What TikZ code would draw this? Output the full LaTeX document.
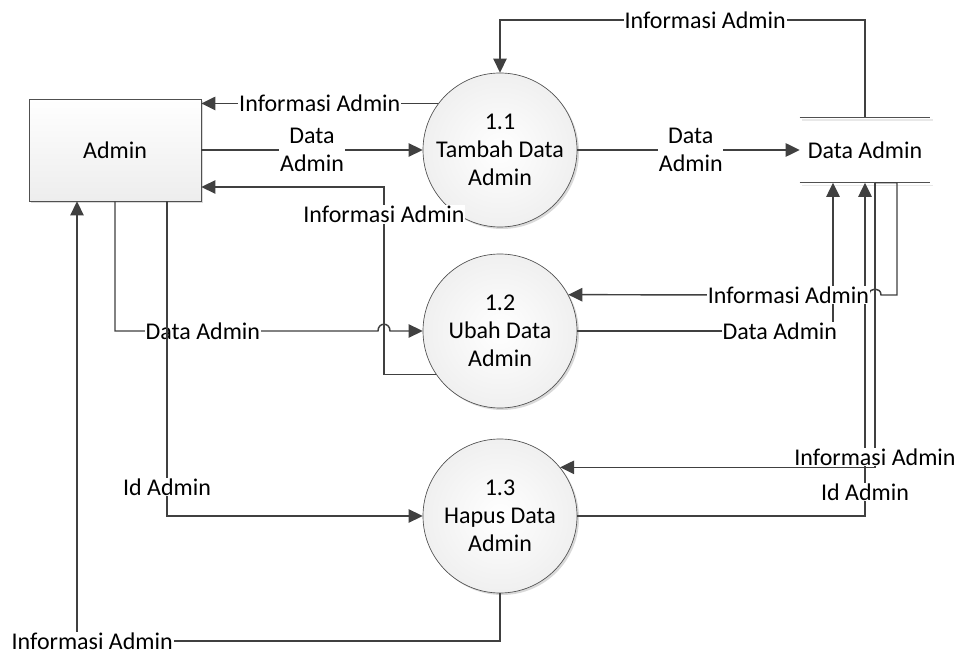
\documentclass[tikz,border=0pt]{standalone}
\usepackage{fontspec}
\setmainfont{Carlito}
\usetikzlibrary{arrows.meta,shadows,calc}
\definecolor{linecol}{HTML}{404040}
\definecolor{edgecol}{HTML}{505050}
\begin{document}
\begin{tikzpicture}[x=0.75pt,y=-0.75pt,
  font=\fontsize{18pt}{21pt}\selectfont,
  flow/.style={draw=linecol, line width=1.1pt, -{Triangle[length=10.5pt,width=10pt]}},
  lbl/.style={fill=white, inner sep=0.6pt, text=black, align=center},
  softshadow/.style={drop shadow={shadow xshift=1.5pt, shadow yshift=-1.5pt, opacity=0.15, fill=black}},
  process/.style={circle, draw=edgecol, line width=0.5pt, minimum size=115.5pt,
    inner sep=0pt, align=center, inner color=white, outer color=gray!12, softshadow},
  entity/.style={rectangle, draw=edgecol, line width=0.5pt, minimum width=129pt,
    minimum height=76.5pt, top color=white, bottom color=gray!14, softshadow},
  store/.style={minimum width=97.5pt, minimum height=48.75pt, inner sep=0pt},
  storeline/.style={draw=edgecol, line width=0.9pt},
  storeshade/.style={draw=gray!18, line width=1.2pt}
]
\fill[white] (0,0) rectangle (960,655);
\useasboundingbox (0,0) rectangle (960,655);

% external entity, processes and data store
\node[entity] (admin) at (115,150) {Admin};
\node[process] (c11) at (500,150) {1.1\\Tambah Data\\Admin};
\node[process] (c12) at (500,331) {1.2\\Ubah Data\\Admin};
\node[process] (c13) at (500,516) {1.3\\Hapus Data\\Admin};
\node[store] (ds) at (865,150) {Data Admin};
\draw[storeshade] ([xshift=2pt,yshift=-2pt]ds.north west) -- ([xshift=2pt,yshift=-2pt]ds.north east);
\draw[storeshade] ([xshift=2pt,yshift=-2pt]ds.south west) -- ([xshift=2pt,yshift=-2pt]ds.south east);
\draw[storeline] (ds.north west) -- (ds.north east);
\draw[storeline] (ds.south west) -- (ds.south east);

% bend points
\coordinate (etop) at (500,20);
\coordinate (ib) at (384,187);
\coordinate (lc) at (77,641);

% flows around process 1.1
\draw[flow] (ds.north) |- node[lbl,pos=0.719]{Informasi Admin} (etop) -- (c11.north);
\draw[flow] (c11.143) -- node[lbl,pos=0.5]{Informasi Admin} (admin.east |- c11.143);
\draw[flow] (admin.east) -- node[lbl]{Data\\Admin} (c11.west);
\draw[flow] (c11.east) -- node[lbl,pos=0.51]{Data\\Admin} (ds.west);

% flows between Admin and processes 1.2 / 1.3
\draw[flow] (c12.214) -| node[lbl,pos=0.927]{Informasi Admin} (ib) -- (admin.east |- ib);
\draw[flow] (admin.south) |- node[lbl,pos=0.667]{Data Admin} (378,331)
  .. controls (378,322) and (390,322) .. (390,331) -- (c12.west);
\draw[flow] ($(admin.south)+(52,0)$) |- node[lbl,pos=0.454]{Id Admin} (c13.west);
\draw[flow] (c13.south) |- node[lbl,pos=0.982]{Informasi Admin} (lc) -- (admin.south -| lc);

% flows between processes 1.2 / 1.3 and the data store
\draw[flow] (c12.east) -| node[lbl,pos=0.396]{Data Admin} ($(ds.south)+(-32,0)$);
\draw[flow] (c13.east) -| node[lbl,pos=0.536]{Id Admin} (ds.south);
\draw[flow] ($(ds.south)+(10,0)$) |- node[lbl,pos=0.482]{Informasi Admin} (c13.39);
\draw[flow] ($(ds.south)+(10,0)$) -- ($(ds.south)+(32,0)$) |- (881,295)
  .. controls (881,287) and (869,287) .. (869,295)
  -- node[lbl,pos=0.268]{Informasi Admin} (c12.28);
\end{tikzpicture}
\end{document}
